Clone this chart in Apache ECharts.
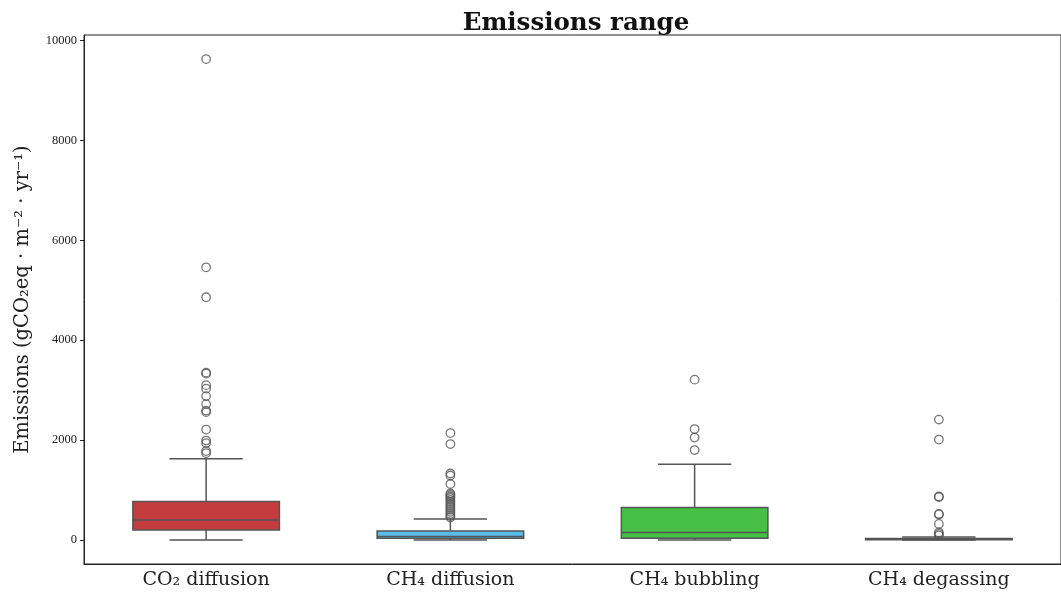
<!DOCTYPE html>
<html><head><meta charset="utf-8">
<script src="https://cdn.jsdelivr.net/npm/echarts@6/dist/echarts.min.js"></script>
<style>html,body{margin:0;padding:0;background:#fff}#c{width:1061px;height:597px}</style>
</head><body><div id="c"></div>
<script>
const categories = ['CO₂ diffusion', 'CH₄ diffusion', 'CH₄ bubbling', 'CH₄ degassing'];
const whiskerLow = [0, 0, 0, 0];
const q1 = [200, 33, 33, 3];
const median = [400, 67, 147, 12];
const q3 = [768, 180, 648, 28];
const whiskerHigh = [1625, 421, 1518, 60];
const outliersCO2 = [9630, 5460, 4860, 3350, 3330, 3100, 3030, 2880, 2720, 2590, 2560, 2210, 1990, 1940, 1780, 1740];
const outliersCH4Diffusion = [2140, 1920, 1330, 1290, 1120, 930, 900, 870, 840, 800, 760, 720, 680, 640, 600, 560, 520, 480, 450];
const outliersCH4Bubbling = [3210, 2220, 2050, 1800];
const outliersCH4Degassing = [2410, 2010, 870, 860, 520, 510, 320, 150, 120, 90];
const boxColors = ['#c23c3e', '#56bdea', '#46bf46', '#e8a33a'];
const yTicks = [0, 2000, 4000, 6000, 8000, 10000];
const yMin = -482, yMax = 10112;

const outlierGroups = [outliersCO2, outliersCH4Diffusion, outliersCH4Bubbling, outliersCH4Degassing];
const boxData = categories.map((c, i) => [i, whiskerLow[i], q1[i], median[i], q3[i], whiskerHigh[i]]);
const outlierData = [];
outlierGroups.forEach((g, i) => g.forEach(v => outlierData.push([i, v])));

const FONT = "'Liberation Serif', 'DejaVu Serif', serif";
const WIDE = "'DejaVu Serif', 'Liberation Serif', serif";
const LINE = '#555555';

const chart = echarts.init(document.getElementById('c'), null, {renderer: 'canvas'});
chart.setOption({
  animation: false,
  backgroundColor: '#ffffff',
  title: {
    text: 'Emissions range',
    left: 571, top: 6, textAlign: 'center',
    textStyle: {fontFamily: WIDE, fontWeight: 'bold', fontSize: 24.5, color: '#111'}
  },
  grid: {left: 84, right: -8, top: 35, bottom: 33, show: true, borderColor: '#222', borderWidth: 1, backgroundColor: 'transparent'},
  xAxis: {
    type: 'category', data: categories, boundaryGap: true,
    axisLine: {onZero: false, lineStyle: {color: '#222', width: 1}},
    axisTick: {alignWithLabel: true, length: 4, lineStyle: {color: '#222'}},
    axisLabel: {fontFamily: WIDE, fontSize: 19, color: '#222', margin: 7},
    splitLine: {show: false}
  },
  yAxis: {
    type: 'value', min: yMin, max: yMax,
    name: 'Emissions (gCO₂eq · m⁻² · yr⁻¹)',
    nameLocation: 'middle', nameGap: 51, nameRotate: 90,
    nameTextStyle: {fontFamily: WIDE, fontSize: 19.5, color: '#222'},
    axisLine: {show: true, lineStyle: {color: '#222', width: 1}},
    axisTick: {show: true, length: 4, lineStyle: {color: '#222'}, customValues: yTicks},
    axisLabel: {fontFamily: FONT, fontSize: 12.5, color: '#222', margin: 7, customValues: yTicks,
      formatter: v => String(v)},
    splitLine: {show: false}
  },
  series: [
    {
      type: 'custom',
      data: boxData,
      encode: {x: 0, y: [1, 2, 3, 4, 5]},
      z: 2,
      renderItem: function (params, api) {
        const i = api.value(0);
        const bw = api.size([1, 0])[0];
        const half = bw * 0.3, cap = bw * 0.15;
        const x = api.coord([i, 0])[0];
        const yLo = api.coord([i, api.value(1)])[1];
        const yQ1 = api.coord([i, api.value(2)])[1];
        const yMed = api.coord([i, api.value(3)])[1];
        const yQ3 = api.coord([i, api.value(4)])[1];
        const yHi = api.coord([i, api.value(5)])[1];
        const ls = {stroke: LINE, lineWidth: 1.5};
        return {
          type: 'group',
          children: [
            {type: 'line', shape: {x1: x, y1: yQ1, x2: x, y2: yLo}, style: ls},
            {type: 'line', shape: {x1: x - cap, y1: yLo, x2: x + cap, y2: yLo}, style: ls},
            {type: 'line', shape: {x1: x, y1: yQ3, x2: x, y2: yHi}, style: ls},
            {type: 'line', shape: {x1: x - cap, y1: yHi, x2: x + cap, y2: yHi}, style: ls},
            {type: 'rect', shape: {x: x - half, y: yQ3, width: 2 * half, height: yQ1 - yQ3},
              style: {fill: boxColors[i], stroke: LINE, lineWidth: 1.5}},
            {type: 'line', shape: {x1: x - half, y1: yMed, x2: x + half, y2: yMed}, style: ls}
          ]
        };
      }
    },
    {
      type: 'scatter',
      data: outlierData,
      symbol: 'circle',
      symbolSize: 8.5,
      z: 3,
      itemStyle: {color: 'rgba(255,255,255,0)', borderColor: LINE, borderWidth: 1.3}
    }
  ]
});
</script>
</body></html>
